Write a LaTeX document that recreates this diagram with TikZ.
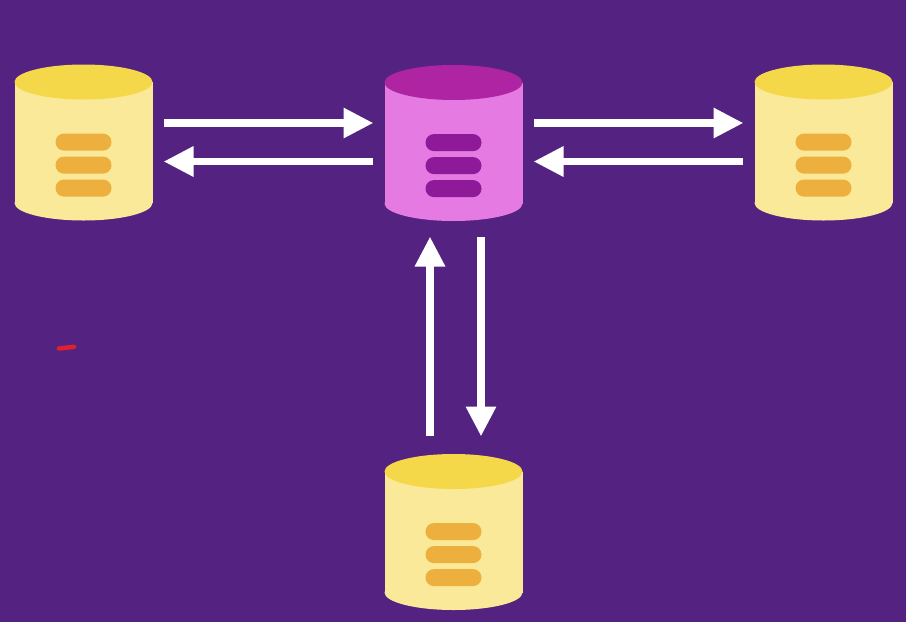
\documentclass[tikz,border=0pt]{standalone}
\usetikzlibrary{arrows.meta, calc, positioning, shapes.geometric}
\definecolor{backcol}{HTML}{542281}
\definecolor{yeltop}{HTML}{F4D84A}
\definecolor{yelbody}{HTML}{FAE998}
\definecolor{yelpill}{HTML}{EDB03F}
\definecolor{magtop}{HTML}{AE24A2}
\definecolor{magbody}{HTML}{E47AE2}
\definecolor{magpill}{HTML}{8E1A9A}
\definecolor{markcol}{HTML}{E0202C}
\tikzset{%
    dbbody/.style={rectangle, inner sep=0pt, outer sep=0pt, minimum width=138pt, minimum height=121pt},
    dblid/.style={ellipse, inner sep=0pt, outer sep=0pt, minimum width=138pt, minimum height=35pt},
    pill/.style={rectangle, rounded corners=8.4pt, inner sep=0pt, outer sep=0pt, minimum width=56pt, minimum height=17pt},
    pria/.style={line width=7.5pt, white, -{Triangle[length=30pt, width=28.5pt]}},
}
% name, position, top colour, body colour, pill colour
\newcommand{\dbcyl}[5]{%
    \node [dblid, fill=#4] (#1bot) at ($#2+(0,60.5)$) {};
    \node [dbbody, fill=#4] (#1) at #2 {};
    \node [dblid, fill=#3] (#1top) at ($#2+(0,-60.5)$) {};
    \node [pill, fill=#5] (#1a) at ($(#1.center)+(0,-0.4)$) {};
    \node [pill, fill=#5, below=6pt of #1a] (#1b) {};
    \node [pill, fill=#5, below=6pt of #1b] (#1c) {};
}
\begin{document}
\begin{tikzpicture}[x=1pt, y=-1pt]
    \fill [backcol] (0,0) rectangle (906,622);
    \useasboundingbox (0,0) rectangle (906,622);
    \dbcyl{west}{(83.5,142.5)}{yeltop}{yelbody}{yelpill}
    \dbcyl{main}{(453.5,143)}{magtop}{magbody}{magpill}
    \dbcyl{east}{(823.5,142.5)}{yeltop}{yelbody}{yelpill}
    \dbcyl{south}{(453.5,532)}{yeltop}{yelbody}{yelpill}
    \draw [pria] ($(west.east)+(11.5,-19.5)$) -- ($(main.west)+(-11,-20)$);
    \draw [pria] ($(main.west)+(-11.5,18.5)$) -- ($(west.east)+(11,19)$);
    \draw [pria] ($(main.east)+(11.5,-20)$) -- ($(east.west)+(-11,-19.5)$);
    \draw [pria] ($(east.west)+(-11.5,19)$) -- ($(main.east)+(11,18.5)$);
    \draw [pria] ($(southtop.north)+(-23.5,-18)$) -- ($(mainbot.south)+(-23.5,15.5)$);
    \draw [pria] ($(mainbot.south)+(27.5,16)$) -- ($(southtop.north)+(27.5,-17.5)$);
    \coordinate (marka) at (59,348.5);
    \coordinate (markb) at (74,346.8);
    \draw [line width=4.5pt, line cap=round, markcol] (marka) -- (markb);
\end{tikzpicture}
\end{document}
